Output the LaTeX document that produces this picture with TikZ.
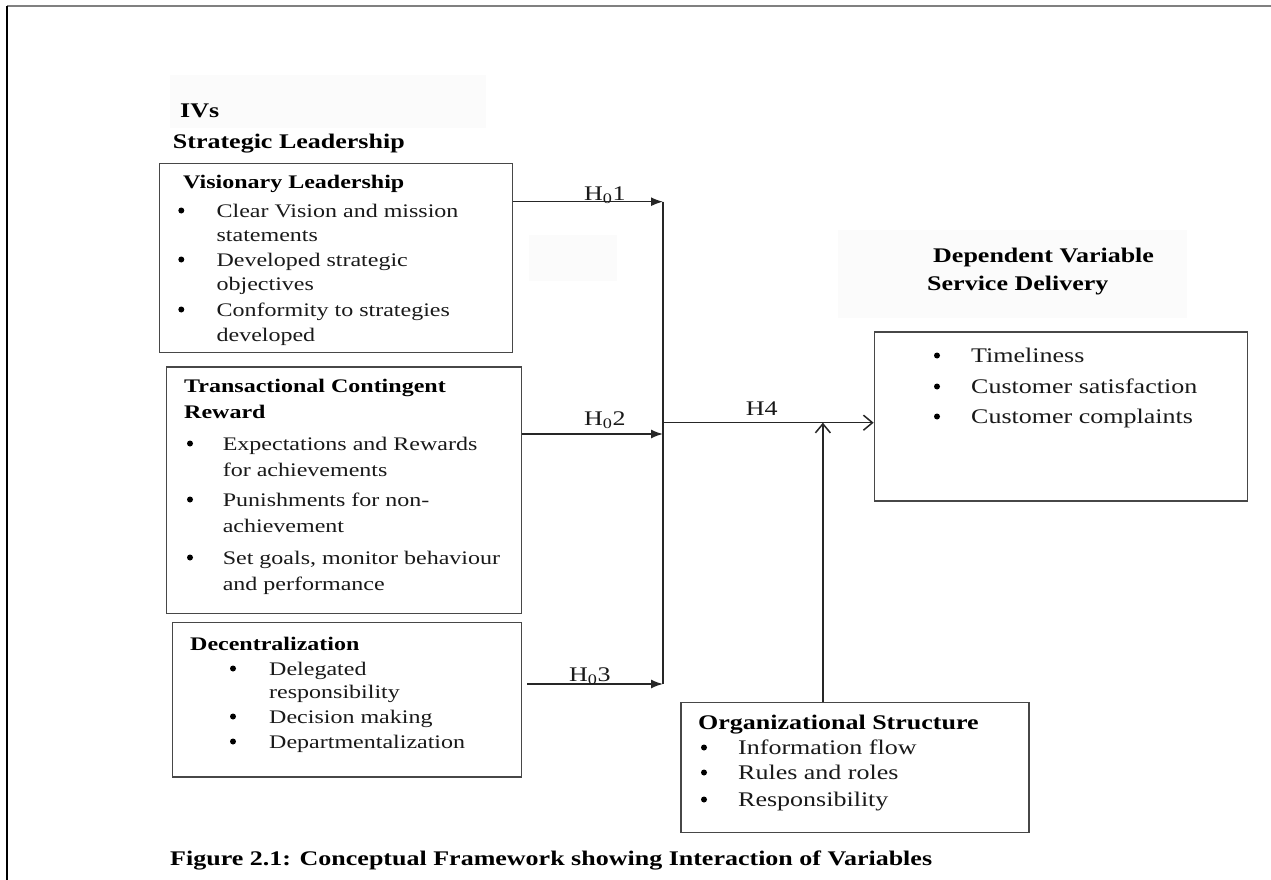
\documentclass[tikz,border=0pt]{standalone}
\usepackage{fontspec}
\setmainfont{Liberation Serif}[FakeStretch=1.25]
\usetikzlibrary{arrows.meta}
\newcommand{\fsa}{\fontsize{19.2}{23}\selectfont}
\newcommand{\fsb}{\fontsize{20.8}{25}\selectfont}
\tikzset{
  box/.style={draw=black!72, line width=1.5pt, inner sep=0pt, anchor=north west},
  ta/.style={anchor=base west, inner sep=0pt, font=\fsa, text=black!90},
  tah/.style={anchor=base west, inner sep=0pt, font=\fsa\bfseries},
  tb/.style={anchor=base west, inner sep=0pt, font=\fsb, text=black!90},
  tbh/.style={anchor=base west, inner sep=0pt, font=\fsb\bfseries},
  dot/.style={circle, fill=black, draw=none, inner sep=0pt, minimum size=6pt, yshift=6.5pt},
  conn/.style={line width=1.5pt, draw=black!85},
  solidtip/.style={-{Latex[length=12pt,width=9pt]}},
  opentip/.style={-{Straight Barb[length=9pt,width=15pt,line width=1.5pt]}},
  faint/.style={fill=black!1.5, draw=none},
}
\begin{document}
\begin{tikzpicture}[x=1pt,y=-1pt]
\useasboundingbox (0,0) rectangle (1271,880);
\fill[white] (0,0) rectangle (1271,880);
% page frame
\draw[line width=2.5pt, black!50] (7,6) -- (1271,6);
\draw[line width=1.8pt, black] (7,6) -- (7,880);
% faint backgrounds
\fill[faint] (170,75) rectangle (486,128);
\fill[faint] (529,235) rectangle (617,281);
\fill[faint] (838,230) rectangle (1187,318);

% headings
\node[tbh] (ivs) at (180,118) {IVs};
\node[tbh] (sl) at (172.7,148) {Strategic Leadership};

% Visionary leadership box
\node[box, minimum width=353pt, minimum height=189pt] (vis) at (158.9,162.7) {};
\node[tah] (vist) at (183,188.3) {Visionary Leadership};
\node[dot] (vb1) at (181.3,217) {};
\node[ta] (v1) at (216.4,217) {Clear Vision and mission};
\node[ta] (v2) at (216.4,241) {statements};
\node[dot] (vb2) at (181.3,266) {};
\node[ta] (v3) at (216.4,266) {Developed strategic};
\node[ta] (v4) at (216.4,290) {objectives};
\node[dot] (vb3) at (181.3,316) {};
\node[ta] (v5) at (216.4,316) {Conformity to strategies};
\node[ta] (v6) at (216.4,341) {developed};

% Transactional box
\node[box, minimum width=354.7pt, minimum height=246.7pt] (tr) at (165.8,366) {};
\node[tah] (trt1) at (184,392) {Transactional Contingent};
\node[tah] (trt2) at (184,418) {Reward};
\node[dot] (tb1) at (190,450) {};
\node[ta] (t1) at (222.6,450) {Expectations and Rewards};
\node[ta] (t2) at (222.6,476) {for achievements};
\node[dot] (tb2) at (190,506) {};
\node[ta] (t3) at (222.6,506) {Punishments for non-};
\node[ta] (t4) at (222.6,532) {achievement};
\node[dot] (tb3) at (190,564) {};
\node[ta] (t5) at (222.6,564) {Set goals, monitor behaviour};
\node[ta] (t6) at (222.6,590) {and performance};

% Decentralization box
\node[box, minimum width=348.8pt, minimum height=154.3pt] (dec) at (171.7,621.7) {};
\node[tah] (dect) at (190,650) {Decentralization};
\node[dot] (db1) at (233,675) {};
\node[ta] (d1) at (269,675) {Delegated};
\node[ta] (d2) at (269,698) {responsibility};
\node[dot] (db2) at (233,723) {};
\node[ta] (d3) at (269,723) {Decision making};
\node[dot] (db3) at (233,748) {};
\node[ta] (d4) at (269,748) {Departmentalization};

% Dependent variable
\node[tbh] (dvt1) at (933,262) {Dependent Variable};
\node[tbh] (dvt2) at (927,290) {Service Delivery};
\node[box, minimum width=372.9pt, minimum height=169pt] (dv) at (873.6,331) {};
\node[dot] (sb1) at (937,362) {};
\node[tb] (s1) at (971,362) {Timeliness};
\node[dot] (sb2) at (937,393) {};
\node[tb] (s2) at (971,393) {Customer satisfaction};
\node[dot] (sb3) at (937,423) {};
\node[tb] (s3) at (971,423) {Customer complaints};

% Organizational structure
\node[box, minimum width=348pt, minimum height=130pt] (org) at (680.3,701.7) {};
\node[tbh] (orgt) at (698,729) {Organizational Structure};
\node[dot] (ob1) at (704,754) {};
\node[tb] (o1) at (738,754) {Information flow};
\node[dot] (ob2) at (704,779) {};
\node[tb] (o2) at (738,779) {Rules and roles};
\node[dot] (ob3) at (704,806) {};
\node[tb] (o3) at (738,806) {Responsibility};

% connectors
\coordinate (j1) at (663,201.7);
\coordinate (j2) at (663,434);
\coordinate (j3) at (663,684);
\coordinate (j4) at (663,422.7);
\coordinate (u) at (822.9,422.7);
\draw[conn] (j1) -- (j3);
\draw[conn, solidtip] (vis.east |- j1) -- (j1);
\draw[conn, solidtip] (tr.east |- j2) -- (j2);
\draw[conn, solidtip] ([xshift=5pt]dec.east |- j3) -- (j3);
\draw[conn, opentip] (j4) -- (dv.west |- j4);
\draw[conn, opentip] (org.north -| u) -- (u);

% hypothesis labels
\node[tb] (h1) at (584,200) {H\textsubscript{0}1};
\node[tb] (h2) at (584,425) {H\textsubscript{0}2};
\node[tb] (h3) at (569,681.5) {H\textsubscript{0}3};
\node[tb] (h4) at (745.7,415.7) {H4};

% caption
\node[tbh] (cap) at (170,865) {Figure 2.1: Conceptual Framework showing Interaction of Variables};
\end{tikzpicture}
\end{document}
